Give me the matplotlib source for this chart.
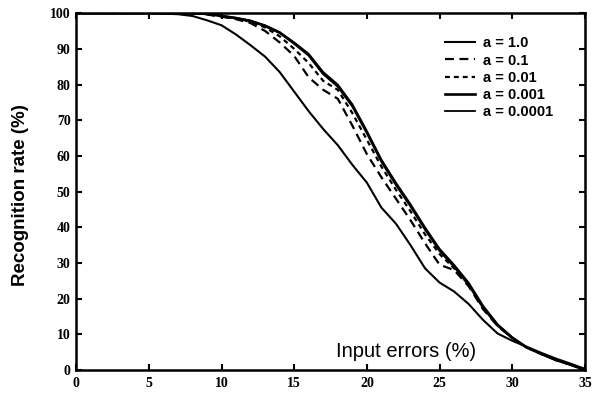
import matplotlib
matplotlib.use("Agg")
import matplotlib.pyplot as plt
import numpy as np

x = [0, 5, 7, 8, 9, 10, 11, 12, 13, 14, 15, 16, 17, 18, 19, 20, 21, 22, 23,
     24, 25, 26, 27, 28, 29, 30, 31, 32, 33, 34, 35]

a_1_0 = [100, 100, 99.7, 99.2, 98.0, 96.6, 94.0, 91.0, 87.8, 83.5, 78.0, 72.5,
         67.5, 63.0, 57.5, 52.5, 45.5, 41.0, 35.0, 28.5, 24.5, 22.0, 18.5,
         14.0, 10.2, 8.2, 6.5, 4.8, 3.2, 1.8, 0.3]
a_0_1 = [100, 100, 100, 100, 99.6, 99.0, 98.3, 97.2, 95.0, 91.8, 88.0, 82.0,
         78.5, 76.0, 68.5, 60.5, 54.0, 48.0, 42.0, 35.5, 29.5, 28.0, 23.5,
         17.0, 12.3, 9.0, 6.3, 4.5, 2.8, 1.5, 0.2]
a_0_01 = [100, 100, 100, 100, 99.7, 99.1, 98.5, 97.6, 96.0, 93.5, 90.0, 86.0,
          81.0, 78.5, 72.0, 64.5, 57.0, 50.5, 44.5, 38.0, 32.5, 28.5, 24.0,
          17.5, 12.5, 9.0, 6.3, 4.5, 2.8, 1.5, 0.0]
a_0_001 = [100, 100, 100, 100, 99.8, 99.2, 98.6, 97.8, 96.4, 94.5, 91.5, 88.2,
           83.0, 79.5, 74.0, 66.5, 58.5, 52.0, 46.0, 39.5, 33.5, 29.0, 24.0,
           17.5, 12.5, 9.0, 6.3, 4.5, 2.8, 1.5, 0.0]
a_0_0001 = [100, 100, 100, 100, 99.8, 99.3, 98.7, 97.9, 96.6, 94.7, 91.8, 88.6,
            83.5, 80.0, 74.5, 67.0, 59.0, 52.5, 46.5, 40.0, 34.0, 29.5, 24.5,
            18.0, 12.8, 9.2, 6.4, 4.6, 2.9, 1.6, 0.2]

labels = ["a = 1.0", "a = 0.1", "a = 0.01", "a = 0.001", "a = 0.0001"]
series = [a_1_0, a_0_1, a_0_01, a_0_001, a_0_0001]
styles = ["-", (0, (4, 2.5)), (0, (2.2, 1.8)), "-", "-"]
widths = [1.5, 1.6, 1.6, 1.9, 1.3]

xticks = [0, 5, 10, 15, 20, 25, 30, 35]
yticks = [0, 10, 20, 30, 40, 50, 60, 70, 80, 90, 100]

fig = plt.figure(figsize=(5.95, 3.98), dpi=100)
ax = fig.add_axes([0.128, 0.0704, 0.855, 0.8966])

for ys, lab, ls, lw in zip(series, labels, styles, widths):
    ax.plot(x, ys, color="black", linestyle=ls, linewidth=lw, label=lab)

ax.set_xlim(0, 35)
ax.set_ylim(0, 100)
ax.set_xticks(xticks)
ax.set_yticks(yticks)
ax.set_xticklabels([str(t) for t in xticks], fontfamily="Liberation Serif",
                   fontweight="bold", fontsize=10)
ax.set_yticklabels([str(t) for t in yticks], fontfamily="Liberation Serif",
                   fontweight="bold", fontsize=10)
ax.tick_params(direction="in", length=4, width=1.5, top=True, right=True)
ax.tick_params(axis="x", pad=5)
ax.tick_params(axis="y", pad=4)
for s in ax.spines.values():
    s.set_linewidth(1.8)

ax.set_ylabel("Recognition rate (%)", fontfamily="Liberation Sans",
              fontweight="bold", fontsize=13.5)
ax.yaxis.set_label_coords(-0.092, 0.49)
ax.text(22.7, 5.2, "Input errors (%)", fontfamily="Liberation Sans",
        fontsize=14.5, ha="center", va="center")

leg = ax.legend(loc="upper left", bbox_to_anchor=(0.725, 0.935), frameon=False,
                borderaxespad=0, borderpad=0,
                handlelength=2.05, handletextpad=0.55, labelspacing=0.22,
                prop={"family": "Liberation Sans", "weight": "bold", "size": 10.5})

fig.savefig("out.png", dpi=100)
